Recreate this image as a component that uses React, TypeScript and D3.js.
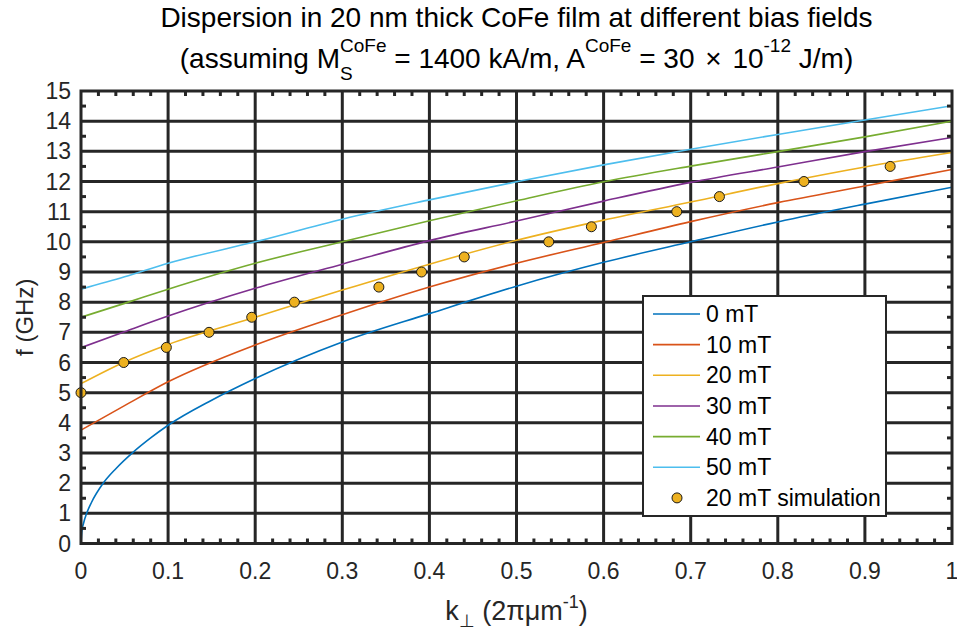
import React from 'react';
import * as d3 from 'd3';

// ---------- data ----------
const kBlue = [0, 0.001, 0.003, 0.0065, 0.012, 0.025, 0.04, 0.06, 0.08, 0.1, 0.15, 0.2, 0.3, 0.4, 0.5, 0.6, 0.7, 0.8, 0.9, 1.0];
const f0mT = [0, 0.4, 0.68, 1.0, 1.36, 1.98, 2.48, 3.03, 3.5, 3.92, 4.75, 5.47, 6.68, 7.62, 8.53, 9.32, 10.0, 10.66, 11.25, 11.81];

const kGrid = [0, 0.05, 0.1, 0.2, 0.3, 0.4, 0.5, 0.6, 0.7, 0.8, 0.9, 1.0];
const f10mT = [3.76, 4.57, 5.36, 6.58, 7.58, 8.5, 9.29, 9.98, 10.67, 11.3, 11.85, 12.4];
const f20mT = [5.3, 6.02, 6.6, 7.5, 8.4, 9.26, 10.05, 10.72, 11.32, 11.93, 12.48, 12.96];
const f30mT = [6.49, 7.02, 7.54, 8.46, 9.26, 10.04, 10.69, 11.35, 11.97, 12.48, 12.99, 13.46];
const f40mT = [7.5, 7.96, 8.43, 9.29, 10.0, 10.7, 11.36, 11.99, 12.51, 12.99, 13.48, 14.0];
const f50mT = [8.43, 8.84, 9.29, 10.0, 10.75, 11.39, 11.99, 12.55, 13.07, 13.56, 14.04, 14.51];

const kSim = [0, 0.049, 0.098, 0.147, 0.196, 0.245, 0.342, 0.391, 0.44, 0.537, 0.586, 0.684, 0.733, 0.83, 0.929];
const fSim = [5, 6, 6.5, 7, 7.5, 8, 8.5, 9, 9.5, 10, 10.5, 11, 11.5, 12, 12.5];

const seriesNames = ['0 mT', '10 mT', '20 mT', '30 mT', '40 mT', '50 mT'];
const seriesColors = ['#0072BD', '#D95319', '#EDB120', '#7E2F8E', '#77AC30', '#4DBEEE'];
const simName = '20 mT simulation';

const xTicks = [0, 0.1, 0.2, 0.3, 0.4, 0.5, 0.6, 0.7, 0.8, 0.9, 1];
const yTicks = [0, 1, 2, 3, 4, 5, 6, 7, 8, 9, 10, 11, 12, 13, 14, 15];

// ---------- layout ----------
const W = 957, H = 637;
const X0 = 81, X1 = 952, Y0 = 543.5, Y1 = 91;
const FONT = '"Liberation Sans", Arial, Helvetica, sans-serif';
const INK = '#262626';

export default function App() {
  const x = d3.scaleLinear().domain([0, 1]).range([X0, X1]);
  const y = d3.scaleLinear().domain([0, 15]).range([Y0, Y1]);

  const line = d3.line<[number, number]>()
    .x(d => x(d[0]))
    .y(d => y(d[1]))
    .curve(d3.curveMonotoneX);

  const curves: { k: number[]; f: number[] }[] = [
    { k: kBlue, f: f0mT },
    { k: kGrid, f: f10mT },
    { k: kGrid, f: f20mT },
    { k: kGrid, f: f30mT },
    { k: kGrid, f: f40mT },
    { k: kGrid, f: f50mT },
  ];

  const xMinor = d3.range(0, 51).map(i => i / 50).filter((v, i) => i % 5 !== 0);
  const yMinor = d3.range(0, 15).map(i => i + 0.5);

  // legend
  const LX0 = 643, LX1 = 886, LY0 = 296, LY1 = 516;
  const rowY = (i: number) => 314 + i * 30.65;

  return (
    <svg width={W} height={H} style={{ position: 'absolute', left: 0, top: 0, background: '#fff' }} fontFamily={FONT}>
      <defs>
        <clipPath id="plotclip">
          <rect x={X0} y={Y1} width={X1 - X0} height={Y0 - Y1} />
        </clipPath>
      </defs>
      <rect x={0} y={0} width={W} height={H} fill="#fff" />

      {/* grid */}
      <g stroke={INK} strokeWidth={3}>
        {xTicks.slice(1, -1).map(t => (
          <line key={'gx' + t} x1={x(t)} x2={x(t)} y1={Y1} y2={Y0} />
        ))}
        {yTicks.slice(1, -1).map(t => (
          <line key={'gy' + t} x1={X0} x2={X1} y1={y(t)} y2={y(t)} />
        ))}
      </g>

      {/* curves */}
      <g clipPath="url(#plotclip)" fill="none" strokeWidth={1.6}>
        {curves.map((c, i) => (
          <path key={'c' + i} d={line(c.k.map((k, j) => [k, c.f[j]] as [number, number])) || ''} stroke={seriesColors[i]} />
        ))}
      </g>

      {/* simulation markers */}
      <g>
        {kSim.map((k, i) => (
          <circle key={'s' + i} cx={x(k)} cy={y(fSim[i])} r={5} fill="#EDB120" stroke="#1a1a1a" strokeWidth={1} />
        ))}
      </g>

      {/* axes box & minor ticks */}
      <g stroke={INK} strokeWidth={3} fill="none">
        <rect x={X0} y={Y1} width={X1 - X0} height={Y0 - Y1} />
        {xMinor.map(t => (
          <g key={'mx' + t}>
            <line x1={x(t)} x2={x(t)} y1={Y0} y2={Y0 - 5} />
            <line x1={x(t)} x2={x(t)} y1={Y1} y2={Y1 + 5} />
          </g>
        ))}
        {yMinor.map(t => (
          <g key={'my' + t}>
            <line x1={X0} x2={X0 + 5} y1={y(t)} y2={y(t)} />
            <line x1={X1} x2={X1 - 5} y1={y(t)} y2={y(t)} />
          </g>
        ))}
      </g>

      {/* tick labels */}
      <g fill={INK} fontSize={23}>
        {xTicks.map(t => (
          <text key={'tx' + t} x={x(t)} y={579} textAnchor="middle">{d3.format('~g')(t)}</text>
        ))}
        {yTicks.map(t => (
          <text key={'ty' + t} x={71} y={y(t) + 8} textAnchor="end">{t}</text>
        ))}
      </g>

      {/* axis labels */}
      <text x={(X0 + X1) / 2} y={620} textAnchor="middle" fontSize={27} fill={INK}>
        k<tspan fontSize={18} dy={7}>⊥</tspan><tspan dy={-7}>{' (2πμm'}</tspan><tspan fontSize={18} dy={-12}>-1</tspan><tspan dy={12}>)</tspan>
      </text>
      <text transform={`translate(33, ${(Y0 + Y1) / 2}) rotate(-90)`} textAnchor="middle" fontSize={24} fill={INK}>f (GHz)</text>

      {/* title */}
      <text x={(X0 + X1) / 2} y={27} textAnchor="middle" fontSize={28} fill="#000">
        Dispersion in 20 nm thick CoFe film at different bias fields
      </text>
      <text x={(X0 + X1) / 2} y={68} textAnchor="middle" fontSize={28} fill="#000">
        {'(assuming M'}
        <tspan fontSize={19} dy={12}>S</tspan>
        <tspan fontSize={19} dx={-12.7} dy={-28}>CoFe</tspan>
        <tspan dy={16}>{' = 1400 kA/m, A'}</tspan>
        <tspan fontSize={19} dy={-16}>CoFe</tspan>
        <tspan dy={16}>{' = 30 '}</tspan>
        <tspan dx={3}>×</tspan>
        <tspan dx={3}>{' 10'}</tspan>
        <tspan fontSize={19} dy={-16}>-12</tspan>
        <tspan dy={16}>{' J/m)'}</tspan>
      </text>

      {/* legend */}
      <g>
        <rect x={LX0} y={LY0} width={LX1 - LX0} height={LY1 - LY0} fill="#fff" stroke={INK} strokeWidth={2} />
        {seriesNames.map((n, i) => (
          <g key={'l' + i}>
            <line x1={653} x2={700} y1={rowY(i)} y2={rowY(i)} stroke={seriesColors[i]} strokeWidth={1.6} />
            <text x={706} y={rowY(i) + 8} fontSize={23} fill="#000">{n}</text>
          </g>
        ))}
        <circle cx={677} cy={rowY(6)} r={5} fill="#EDB120" stroke="#1a1a1a" strokeWidth={1} />
        <text x={706} y={rowY(6) + 8} fontSize={23} fill="#000">{simName}</text>
      </g>
    </svg>
  );
}
